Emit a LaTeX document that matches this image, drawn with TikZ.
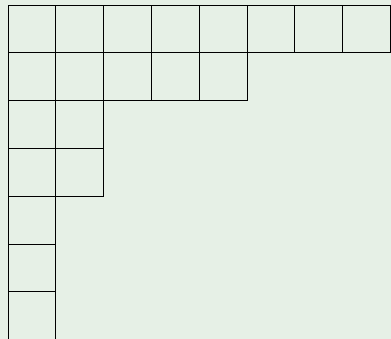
\documentclass[tikz,border=0pt]{standalone}
\definecolor{bg}{RGB}{230,240,230}
\tikzset{cellline/.style={draw=black,line width=0.9pt}}
\begin{document}
\begin{tikzpicture}[x=1pt,y=-1pt]
\fill[bg] (0,0) rectangle (391,339);
\useasboundingbox (0,0) rectangle (391,339);
\def\cs{47.8}
\foreach \r/\len in {0/8,1/5,2/2,3/2,4/1,5/1,6/1}{
  \foreach \c in {1,...,\len}{
    \draw[cellline] ({8+(\c-1)*\cs},{5+\r*\cs}) rectangle ({8+\c*\cs},{5+(\r+1)*\cs});
  }
}
\end{tikzpicture}
\end{document}
